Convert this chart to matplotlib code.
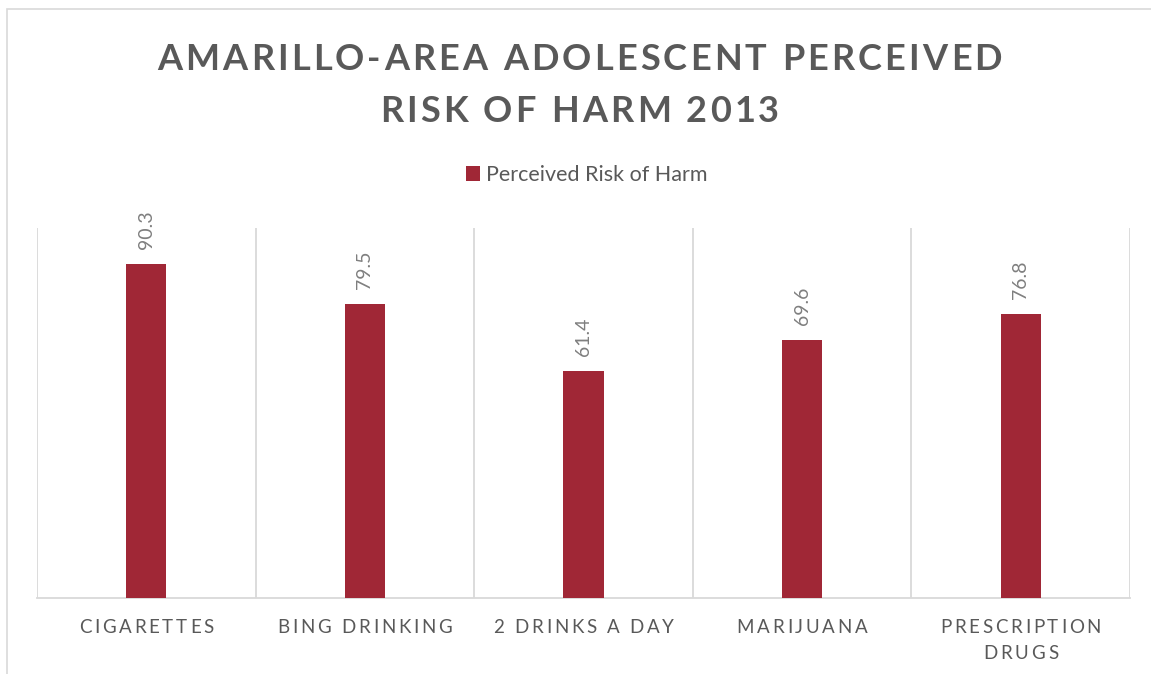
import numpy as np
import matplotlib
matplotlib.use("Agg")
import matplotlib.pyplot as plt
from matplotlib.patches import Rectangle
from matplotlib.font_manager import FontProperties, findfont
from matplotlib.ft2font import FT2Font

categories = ["CIGARETTES", "BING DRINKING", "2 DRINKS A DAY", "MARIJUANA", "PRESCRIPTION\nDRUGS"]
values = [90.3, 79.5, 61.4, 69.6, 76.8]
series_name = "Perceived Risk of Harm"
title_lines = ["AMARILLO-AREA ADOLESCENT PERCEIVED", "RISK OF HARM 2013"]

W, H, DPI = 1151, 674, 100
BAR = "#a02736"
TXT = "#595959"
GRID = "#d9d9d9"
FONT = "Lato"

fig = plt.figure(figsize=(W / DPI, H / DPI), dpi=DPI)
fig.patch.set_facecolor("white")
ax = fig.add_axes([37 / W, 1 - 598 / H, (1130 - 37) / W, (598 - 228) / H])


def advances(s, prop):
    f = FT2Font(findfont(prop), hinting_factor=1)
    f.set_size(prop.get_size_in_points(), DPI)
    return [f.load_char(ord(c)).linearHoriAdvance / 65536 for c in s]


def track_for(s, prop, width):
    return (width - sum(advances(s, prop))) / (len(s) - 1)


def spaced(s, xc, y, prop, track, color=TXT):
    # draw text with extra letter spacing, centred on xc (pixels from left)
    adv = advances(s, prop)
    x = xc - (sum(adv) + track * (len(s) - 1)) / 2
    for c, a in zip(s, adv):
        if c != " ":
            fig.text(x / W, 1 - y / H, c, fontproperties=prop, color=color,
                     ha="left", va="baseline")
        x += a + track


# outer chart border
fig.add_artist(Rectangle((7 / W, -0.1), 1.2, 1.1 - 9 / H, transform=fig.transFigure,
                         fill=False, ec=GRID, lw=1.2))

x = np.arange(len(categories))
ax.bar(x, values, width=0.183, color=BAR, label=series_name, zorder=3)
ax.set_xlim(-0.5, len(categories) - 0.5)
ax.set_ylim(0, 100)
ax.set_yticks([])
ax.set_xticks(x)
ax.set_xticklabels([])
ax.set_xticks(np.arange(-0.5, len(categories)), minor=True)
ax.tick_params(which="both", length=0)
ax.grid(which="minor", axis="x", color=GRID, lw=1.3)
for side in ["top", "left", "right"]:
    ax.spines[side].set_visible(False)
ax.spines["bottom"].set_color(GRID)
ax.spines["bottom"].set_linewidth(1.3)

lab_prop = FontProperties(family=FONT, size=14)
for xi, v in zip(x, values):
    ax.annotate(f"{v}", (xi, v), xytext=(0, 15), textcoords="offset pixels",
                rotation=90, ha="center", va="bottom", color="#7f7f7f",
                fontproperties=lab_prop)

# letter-spaced title
title_prop = FontProperties(family=FONT, weight="bold", size=26)
t_track = track_for(title_lines[0], title_prop, 845)
spaced(title_lines[0], W / 2 + 4, 70, title_prop, t_track)
spaced(title_lines[1], W / 2 + 4, 122, title_prop, t_track)

# letter-spaced category labels
cat_prop = FontProperties(family=FONT, size=13.5)
c_track = track_for(categories[0], cat_prop, 135)
for xi, name in zip(x, categories):
    px = ax.transData.transform((xi, 0))[0]
    for k, line in enumerate(name.split("\n")):
        spaced(line, px, 633 + 26 * k, cat_prop, c_track)

fig.legend(loc="center", bbox_to_anchor=(587 / W, 1 - 175 / H), frameon=False,
           prop=FontProperties(family=FONT, size=15.5), labelcolor=TXT,
           handlelength=0.65, handleheight=0.65, handletextpad=0.3)

fig.savefig("out.png", dpi=DPI, facecolor="white")
